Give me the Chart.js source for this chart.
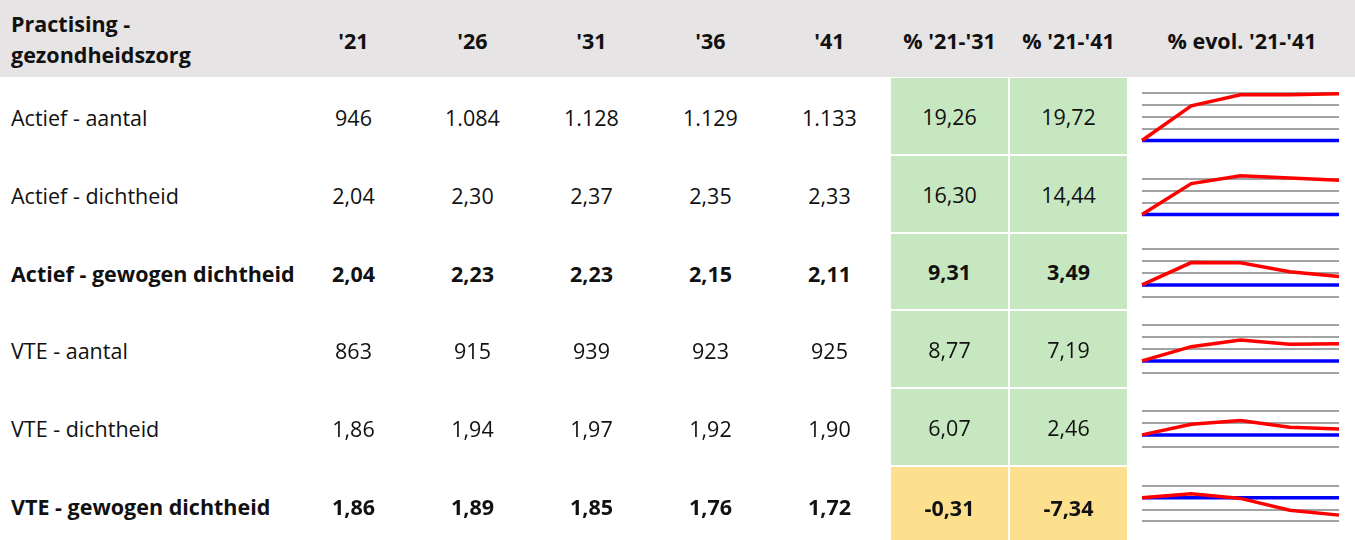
<!DOCTYPE html>
<html>
<head>
<meta charset="utf-8">
<script src="https://cdn.jsdelivr.net/npm/chart.js@4"></script>
<style>
  body { margin: 0; background: #fff; font-family: "Open Sans", Lato, sans-serif; color: #111; }
  #wrap { position: relative; width: 1355px; height: 540px; overflow: hidden; }
  .head { position: absolute; left: 0; top: 0; width: 1355px; height: 77px; background: #e7e4e5; }
  .cell { position: absolute; display: flex; align-items: center; justify-content: center; font-size: 21.5px; }
  .lbl { justify-content: flex-start; padding-left: 11px; }
  .b { font-weight: bold; }
  canvas { position: absolute; }
</style>
</head>
<body>
<div id="wrap"><div class="head"></div></div>
<script>
// Practising - gezondheidszorg: table + sparklines

const years = ["'21", "'26", "'31", "'36", "'41"];
const rowLabels = ['Actief - aantal', 'Actief - dichtheid', 'Actief - gewogen dichtheid',
  'VTE - aantal', 'VTE - dichtheid', 'VTE - gewogen dichtheid'];
const boldRows = [false, false, true, false, false, true];

const actiefAantal = [946, 1084, 1128, 1129, 1133];
const actiefDichtheid = [2.04, 2.30, 2.37, 2.35, 2.33];
const actiefGewogen = [2.04, 2.23, 2.23, 2.15, 2.11];
const vteAantal = [863, 915, 939, 923, 925];
const vteDichtheid = [1.86, 1.94, 1.97, 1.92, 1.90];
const vteGewogen = [1.86, 1.89, 1.85, 1.76, 1.72];
const decimals = [0, 2, 2, 0, 2, 2];

const pct2131 = [19.26, 16.30, 9.31, 8.77, 6.07, -0.31];
const pct2141 = [19.72, 14.44, 3.49, 7.19, 2.46, -7.34];

// % evolution vs '21 (sparklines)
const evolActiefAantal = [0, 14.6, 19.26, 19.3, 19.72];
const evolActiefDichtheid = [0, 13.0, 16.30, 15.4, 14.44];
const evolActiefGewogen = [0, 9.4, 9.31, 5.5, 3.49];
const evolVteAantal = [0, 6.0, 8.77, 7.0, 7.19];
const evolVteDichtheid = [0, 4.5, 6.07, 3.2, 2.46];
const evolVteGewogen = [0, 1.6, -0.31, -5.3, -7.34];
const baseline = [0, 0, 0, 0, 0];

// sparkline axis limits and gridline range
const axisMax = [26.3, 24.6, 21.4, 21.0, 19.3, 12.9];
const axisMin = [-6.5, -8.2, -11.4, -11.8, -13.5, -19.9];
const gridMax = [20, 20, 15, 15, 15, 10];
const gridMin = [0, 0, -5, -5, -5, -15];

const rows = [actiefAantal, actiefDichtheid, actiefGewogen, vteAantal, vteDichtheid, vteGewogen];
const evol = [evolActiefAantal, evolActiefDichtheid, evolActiefGewogen, evolVteAantal, evolVteDichtheid, evolVteGewogen];

function fmt(v, d) {
  let s = Math.abs(v).toFixed(d).split('.');
  s[0] = s[0].replace(/\B(?=(\d{3})+(?!\d))/g, '.');
  return (v < 0 ? '-' : '') + s[0] + (d ? ',' + s[1] : '');
}

const wrap = document.getElementById('wrap');
function addCell(txt, x, y, w, h, cls, bg) {
  const d = document.createElement('div');
  d.className = 'cell ' + (cls || '');
  d.style.left = x + 'px'; d.style.top = y + 'px';
  d.style.width = w + 'px'; d.style.height = h + 'px';
  if (bg) d.style.background = bg;
  d.textContent = txt;
  wrap.appendChild(d);
  return d;
}

// header
const hd = addCell('', 0, 0, 290, 77, 'lbl b');
hd.innerHTML = 'Practising -<br>gezondheidszorg';
hd.style.lineHeight = '31px';
const colX = [294, 413, 532, 651, 770];
years.forEach((y, i) => addCell(y, colX[i], 0, 119, 80, 'b'));
addCell("% '21-'31", 891, 0, 117, 80, 'b');
addCell("% '21-'41", 1010, 0, 117, 80, 'b');
addCell("% evol. '21-'41", 1129, 0, 226, 80, 'b');

const rowTop = [78, 156, 234, 311, 389, 467];
const rowH = 78;

rows.forEach((vals, r) => {
  const cls = boldRows[r] ? 'b' : '';
  const top = rowTop[r];
  addCell(rowLabels[r], 0, top, 294, rowH, 'lbl ' + cls);
  vals.forEach((v, i) => addCell(fmt(v, decimals[r]), colX[i], top, 119, rowH, cls));
  const h = r < 5 ? rowTop[r + 1] - top - 2 : 80;
  addCell(fmt(pct2131[r], 2), 891, top, 117, h, cls, pct2131[r] < 0 ? '#fde08e' : '#c6e7c0');
  addCell(fmt(pct2141[r], 2), 1010, top, 117, h, cls, pct2141[r] < 0 ? '#fde08e' : '#c6e7c0');

  const cv = document.createElement('canvas');
  cv.width = 209; cv.height = rowH;
  cv.style.left = '1136px'; cv.style.top = top + 'px';
  wrap.appendChild(cv);

  new Chart(cv, {
    type: 'line',
    data: {
      labels: years,
      datasets: [
        { data: evol[r], borderColor: '#ff0000', borderWidth: 3.5, pointRadius: 0, tension: 0 },
        { data: baseline, borderColor: '#0000ff', borderWidth: 3.5, pointRadius: 0 }
      ]
    },
    options: {
      responsive: false,
      animation: false,
      events: [],
      layout: { padding: { left: 6, right: 6, top: 0, bottom: 0 } },
      plugins: { legend: { display: false }, tooltip: { enabled: false } },
      scales: {
        x: { display: false },
        y: {
          min: axisMin[r], max: axisMax[r],
          border: { display: false },
          ticks: { display: false, stepSize: 5 },
          grid: {
            drawTicks: false, lineWidth: 2,
            color: c => (c.tick && c.tick.value >= gridMin[r] && c.tick.value <= gridMax[r] && c.tick.value % 5 === 0) ? '#a3a3a3' : 'rgba(0,0,0,0)'
          }
        }
      }
    }
  });
});
</script>
</body>
</html>
